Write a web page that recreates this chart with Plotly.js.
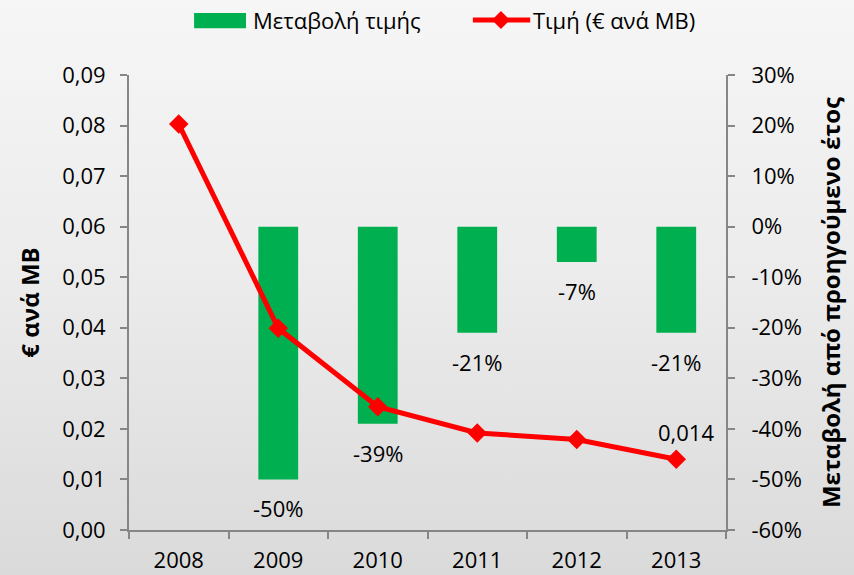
<!DOCTYPE html>
<html>
<head>
<meta charset="utf-8">
<script src="https://cdn.plot.ly/plotly-3.0.1.min.js"></script>
<style>
html,body{margin:0;padding:0;}
#chart{width:854px;height:575px;background:linear-gradient(to bottom,#f6f6f6 0%,#ebebeb 50%,#dadada 100%);}
</style>
</head>
<body>
<div id="chart"></div>
<script>
const years = ['2008','2009','2010','2011','2012','2013'];
const price = [0.0803, 0.0399, 0.0244, 0.0192, 0.0179, 0.0140];
const change = [null, -0.50, -0.39, -0.21, -0.07, -0.21];
const changeLabels = ['', '-50%', '-39%', '-21%', '-7%', '-21%'];
const priceLabel = '0,014';
const seriesNames = ['Μεταβολή τιμής', 'Τιμή (€ ανά MB)'];
const pctTickVals = [-0.6, -0.5, -0.4, -0.3, -0.2, -0.1, 0, 0.1, 0.2, 0.3];
const pctTickText = ['-60%', '-50%', '-40%', '-30%', '-20%', '-10%', '0%', '10%', '20%', '30%'];

const FONT = 'Open Sans, Noto Sans, sans-serif';
const FS = 22;
const AX = '#868686';

const bars = {
  type: 'bar', x: years, y: change, yaxis: 'y', name: seriesNames[0],
  marker: {color: '#00B050'}, width: 0.4, showlegend: false, hoverinfo: 'skip'
};
const line = {
  type: 'scatter', mode: 'lines+markers', x: years, y: price, yaxis: 'y2', name: seriesNames[1],
  line: {color: '#FF0000', width: 5}, marker: {symbol: 'diamond', size: 15, color: '#FF0000'},
  showlegend: false, cliponaxis: false, hoverinfo: 'skip'
};

const annotations = [];
years.forEach((yr, i) => {
  if (change[i] !== null) {
    annotations.push({x: i, y: change[i], xref: 'x', yref: 'y', text: changeLabels[i],
      showarrow: false, yanchor: 'middle', yshift: -29, font: {family: FONT, size: FS, color: '#000'}});
  }
});
annotations.push({x: 5, y: price[5], xref: 'x', yref: 'y2', text: priceLabel, showarrow: false,
  yanchor: 'middle', xshift: 10, yshift: 27, font: {family: FONT, size: FS, color: '#000'}});
// custom legend texts
annotations.push({x: 0.204, y: 1.121, xref: 'paper', yref: 'paper', xanchor: 'left', yanchor: 'middle',
  text: seriesNames[0], showarrow: false, font: {family: FONT, size: FS, color: '#000'}});
annotations.push({x: 0.673, y: 1.121, xref: 'paper', yref: 'paper', xanchor: 'left', yanchor: 'middle',
  text: seriesNames[1], showarrow: false, font: {family: FONT, size: FS, color: '#000'}});

const dx = 9/597, dy = 9/455, cx = 0.623, cy = 1.121;
const shapes = [
  {type: 'rect', xref: 'paper', yref: 'paper', x0: 0.109, x1: 0.196, y0: 1.103, y1: 1.136,
   fillcolor: '#00B050', line: {width: 0}},
  {type: 'line', xref: 'paper', yref: 'paper', x0: 0.576, x1: 0.672, y0: cy, y1: cy,
   line: {color: '#FF0000', width: 5}},
  {type: 'path', xref: 'paper', yref: 'paper',
   path: `M ${cx-dx} ${cy} L ${cx} ${cy+dy} L ${cx+dx} ${cy} L ${cx} ${cy-dy} Z`,
   fillcolor: '#FF0000', line: {width: 0}}
];

const layout = {
  width: 854, height: 575,
  margin: {l: 129, r: 128, t: 75, b: 45},
  paper_bgcolor: 'rgba(0,0,0,0)', plot_bgcolor: 'rgba(0,0,0,0)',
  separators: ',.',
  font: {family: FONT, size: FS, color: '#000'},
  showlegend: false,
  xaxis: {type: 'category', range: [-0.5, 5.5], autorange: false, showline: true, linecolor: AX,
    linewidth: 2, ticks: 'outside', tickson: 'boundaries', ticklen: 7, tickcolor: AX, tickwidth: 2,
    showgrid: false, zeroline: false, tickangle: 0, ticklabelstandoff: 10,
    tickfont: {family: FONT, size: FS, color: '#000'}, fixedrange: true},
  yaxis: {side: 'right', range: [-0.6, 0.3], autorange: false, tickmode: 'array',
    tickvals: pctTickVals, ticktext: pctTickText, showline: true,
    linecolor: AX, linewidth: 2, ticks: 'outside', ticklen: 7, tickcolor: AX, tickwidth: 2,
    ticklabelstandoff: 12,
    showgrid: false, zeroline: false, tickfont: {family: FONT, size: FS, color: '#000'},
    title: {text: '<b>Μεταβολή από προηγούμενο έτος</b>', standoff: 22,
      font: {family: FONT, size: 24, color: '#000'}}},
  yaxis2: {side: 'left', overlaying: 'y', range: [0, 0.09], autorange: false, dtick: 0.01, tickformat: '.2f',
    showline: true, linecolor: AX, linewidth: 2, ticks: 'outside', ticklen: 7, tickcolor: AX,
    tickwidth: 2, ticklabelstandoff: 10, showgrid: false, zeroline: false,
    tickfont: {family: FONT, size: FS, color: '#000'},
    title: {text: '<b>€ ανά MB</b>', standoff: 16, font: {family: FONT, size: 24, color: '#000'}}},
  annotations: annotations,
  shapes: shapes
};

Plotly.newPlot('chart', [bars, line], layout, {displayModeBar: false, staticPlot: true});
</script>
</body>
</html>
